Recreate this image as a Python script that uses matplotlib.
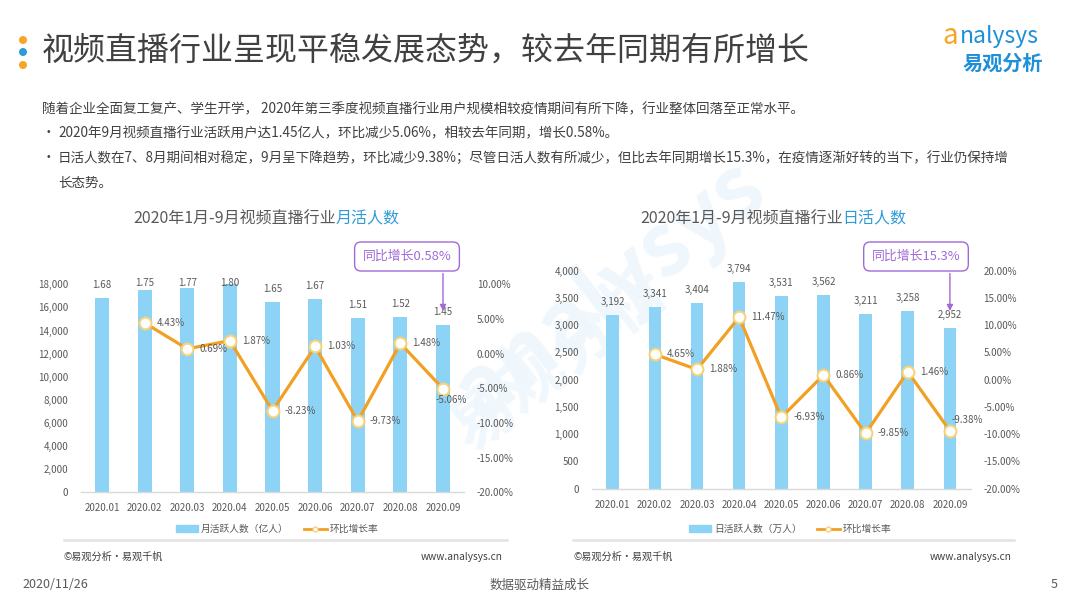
import numpy as np
import matplotlib
matplotlib.use("Agg")
import matplotlib.pyplot as plt
from matplotlib.patches import Patch, Ellipse
from matplotlib.lines import Line2D

plt.rcParams['font.family'] = ['Noto Sans CJK SC', 'DejaVu Sans']

# ---------------- data ----------------
months = ['2020.01', '2020.02', '2020.03', '2020.04', '2020.05',
          '2020.06', '2020.07', '2020.08', '2020.09']
mau_yi = [1.68, 1.75, 1.77, 1.80, 1.65, 1.67, 1.51, 1.52, 1.45]          # 亿人
mau_mom = [np.nan, 4.43, 0.69, 1.87, -8.23, 1.03, -9.73, 1.48, -5.06]     # %
dau = [3192, 3341, 3404, 3794, 3531, 3562, 3211, 3258, 2952]              # 万人
dau_mom = [np.nan, 4.65, 1.88, 11.47, -6.93, 0.86, -9.85, 1.46, -9.38]    # %

left_ticks = [0, 2000, 4000, 6000, 8000, 10000, 12000, 14000, 16000, 18000]
left_pct_ticks = [-20, -15, -10, -5, 0, 5, 10]
right_ticks = [0, 500, 1000, 1500, 2000, 2500, 3000, 3500, 4000]
right_pct_ticks = [-20, -15, -10, -5, 0, 5, 10, 15, 20]

title_main = '视频直播行业呈现平稳发展态势，较去年同期有所增长'
body_lines = [
    '随着企业全面复工复产、学生开学， 2020年第三季度视频直播行业用户规模相较疫情期间有所下降，行业整体回落至正常水平。',
    '2020年9月视频直播行业活跃用户达1.45亿人，环比减少5.06%，相较去年同期，增长0.58%。',
    '日活人数在7、8月期间相对稳定，9月呈下降趋势，环比减少9.38%；尽管日活人数有所减少，但比去年同期增长15.3%，在疫情逐渐好转的当下，行业仍保持增',
    '长态势。',
]

# ---------------- styles ----------------
W, H = 1080, 608
BAR = '#8DD3F5'
ORANGE = '#F2A024'
MEC = '#F6D27A'
GRAY = '#595959'
DARK = '#404040'
BLUE = '#2E9BD6'
PURPLE = '#A06AD8'
LINEGRAY = '#D9D9D9'
BODY_FS = 9.75

def fx(px):
    return px / W

def fy(py):
    return 1 - py / H

fig = plt.figure(figsize=(W / 100, H / 100), dpi=100)
fig.patch.set_facecolor('white')

# faint watermark (behind everything)
fig.text(fx(610), fy(290), 'analysys', rotation=38, fontsize=62, color='#EFF7FC',
         ha='center', va='center', style='italic', zorder=-2, fontweight='bold')
fig.text(fx(560), fy(360), '易观分析', rotation=38, fontsize=46, color='#F1F8FD',
         ha='center', va='center', zorder=-2, fontweight='bold')

# ---------------- header ----------------
for yy, c in [(40, '#F5A623'), (52, '#2E9BD6'), (65, '#F5A623')]:
    fig.add_artist(Ellipse((fx(23), fy(yy)), width=8 / W, height=8 / H,
                           transform=fig.transFigure, facecolor=c, edgecolor='none'))
fig.text(fx(42), fy(51), title_main, fontsize=23, color=DARK, va='center', ha='left')

# logo
fig.text(fx(942), fy(36), 'a', fontsize=20, color='#F5A623', va='center', ha='left', style='italic')
fig.text(fx(960), fy(37), 'nalysys', fontsize=16.5, color='#1E8FD8', va='center', ha='left')
fig.text(fx(1003), fy(63), '易观分析', fontsize=14.5, color='#1E8FD8', va='center', ha='center',
         fontweight='bold')

# body text
fig.text(fx(42), fy(109), body_lines[0], fontsize=BODY_FS, color=DARK, va='center', ha='left')
fig.text(fx(42), fy(133), '•', fontsize=BODY_FS, color=DARK, va='center', ha='left')
fig.text(fx(58), fy(133), body_lines[1], fontsize=BODY_FS, color=DARK, va='center', ha='left')
fig.text(fx(42), fy(158), '•', fontsize=BODY_FS, color=DARK, va='center', ha='left')
fig.text(fx(58), fy(158), body_lines[2], fontsize=BODY_FS, color=DARK, va='center', ha='left')
fig.text(fx(58), fy(183), body_lines[3], fontsize=BODY_FS, color=DARK, va='center', ha='left')


def two_color_title(x0, y0, part1, part2):
    t1 = fig.text(fx(x0), fy(y0), part1, fontsize=11.5, color=GRAY, va='center', ha='left')
    fig.canvas.draw()
    bb = t1.get_window_extent()
    fig.text(bb.x1 / W, fy(y0), part2, fontsize=11.5, color=BLUE, va='center', ha='left')


def make_chart(rect, bars, bar_labels, mom, yticks, pct_ticks, ylab_fmt,
               bar_width, cap_px, special_offsets, legend_center, legend_label,
               ann_text, ann_box_center, ann_top_px, ann_tip_px):
    ax = fig.add_axes(rect)
    ax.set_facecolor('none')
    x = np.arange(len(months))
    ax.bar(x, bars, width=bar_width, color=BAR, zorder=2)
    ax.set_xlim(-0.5, len(months) - 0.5)
    ax.set_ylim(yticks[0], yticks[-1])
    ax.set_yticks(yticks)
    ax.set_yticklabels([ylab_fmt(v) for v in yticks])
    ax.set_xticks(x)
    ax.set_xticklabels(months)
    ax.tick_params(axis='both', length=0, labelsize=7, labelcolor=GRAY)
    ax.tick_params(axis='y', pad=9)
    ax.tick_params(axis='x', pad=8)
    for s in ['top', 'left', 'right']:
        ax.spines[s].set_visible(False)
    ax.spines['bottom'].set_color(LINEGRAY)
    ax.spines['bottom'].set_linewidth(1.0)

    # bar value labels (kept below a top limit, as in the source)
    for xi, v, lab in zip(x, bars, bar_labels):
        top_px = ax.transData.transform((xi, v))[1]
        ly = top_px + 13
        if cap_px is not None:
            ly = min(ly, H - cap_px)
        ax.annotate(lab, xy=(xi, ly), xycoords=('data', 'figure pixels'),
                    ha='center', va='center', fontsize=7, color=GRAY,
                    annotation_clip=False)

    ax2 = ax.twinx()
    ax2.set_ylim(pct_ticks[0], pct_ticks[-1])
    ax2.set_yticks(pct_ticks)
    ax2.set_yticklabels([f'{v:.2f}%' for v in pct_ticks])
    ax2.tick_params(axis='y', length=0, labelsize=7, labelcolor=GRAY, pad=9)
    for s in ['top', 'left', 'right', 'bottom']:
        ax2.spines[s].set_visible(False)
    ax2.plot(x, mom, color=ORANGE, lw=2.3, marker='o', ms=8.5, mfc='white',
             mec=MEC, mew=1.5, zorder=4)
    for xi, v in zip(x, mom):
        if np.isnan(v):
            continue
        off = special_offsets.get(xi, (12, 0))
        ax2.annotate(f'{v:.2f}%', xy=(xi, v), xytext=off, textcoords='offset pixels',
                     ha='left', va='center', fontsize=7, color=GRAY, zorder=5)

    # legend
    handles = [Patch(color=BAR),
               Line2D([], [], color=ORANGE, lw=2, marker='o', ms=3.5, mfc='white', mec=MEC)]
    leg = ax.legend(handles, [legend_label, '环比增长率'], loc='center',
                    bbox_to_anchor=(fx(legend_center[0]), fy(legend_center[1])),
                    bbox_transform=fig.transFigure, ncol=2, frameon=False,
                    fontsize=7, handlelength=2.3, handleheight=0.6,
                    columnspacing=1.6, handletextpad=0.3)
    for t in leg.get_texts():
        t.set_color(GRAY)

    # annotation box + arrow
    fig.text(fx(ann_box_center[0]), fy(ann_box_center[1]), ann_text, fontsize=9.3,
             color=PURPLE, ha='center', va='center',
             bbox=dict(boxstyle='round,pad=0.62,rounding_size=0.5', fc='white',
                       ec=PURPLE, lw=1.0))
    ax2.annotate('', xy=(len(months) - 1, H - ann_tip_px),
                 xytext=(len(months) - 1, H - ann_top_px),
                 xycoords=('data', 'figure pixels'), textcoords=('data', 'figure pixels'),
                 arrowprops=dict(arrowstyle='-|>', color=PURPLE, lw=1.0,
                                 mutation_scale=9, shrinkA=0, shrinkB=0),
                 annotation_clip=False)
    return ax, ax2


# left chart
two_color_title(133, 219, '2020年1月-9月视频直播行业', '月活人数')
make_chart([fx(80.7), fy(492.3), (464.3 - 80.7) / W, (492.3 - 284.3) / H],
           [v * 10000 for v in mau_yi], [f'{v:.2f}' for v in mau_yi], mau_mom,
           left_ticks, left_pct_ticks, lambda v: f'{v:,}',
           0.33, 283, {8: (-7, -11)}, (277, 529), '月活跃人数（亿人）',
           '同比增长0.58%', (407, 256.5), 273.5, 311)

# right chart
two_color_title(640, 219, '2020年1月-9月视频直播行业', '日活人数')
make_chart([fx(591.6), fy(488.7), (971 - 591.6) / W, (488.7 - 270.7) / H],
           dau, [f'{v:,}' for v in dau], dau_mom,
           right_ticks, right_pct_ticks, lambda v: f'{v:,}',
           0.30, None, {8: (2, 11)}, (790, 529), '日活跃人数（万人）',
           '同比增长15.3%', (916, 256.5), 273.5, 311)

# separators & footers
for x0, x1 in [(64, 507), (573, 1014)]:
    fig.add_artist(Line2D([fx(x0), fx(x1)], [fy(540), fy(540)], color='#E3E3E3', lw=1.8,
                          transform=fig.transFigure))
fig.text(fx(64), fy(557), '©易观分析·易观千帆', fontsize=7.3, color=DARK, va='center', ha='left')
fig.text(fx(503), fy(557), 'www.analysys.cn', fontsize=7.3, color=DARK, va='center', ha='right')
fig.text(fx(573), fy(557), '©易观分析·易观千帆', fontsize=7.3, color=DARK, va='center', ha='left')
fig.text(fx(1012), fy(557), 'www.analysys.cn', fontsize=7.3, color=DARK, va='center', ha='right')

fig.text(fx(22), fy(585), '2020/11/26', fontsize=9, color=GRAY, va='center', ha='left')
fig.text(fx(540), fy(585), '数据驱动精益成长', fontsize=9, color=GRAY, va='center', ha='center')
fig.text(fx(1054), fy(585), '5', fontsize=9, color=GRAY, va='center', ha='center')

fig.savefig('out.png', dpi=100)
